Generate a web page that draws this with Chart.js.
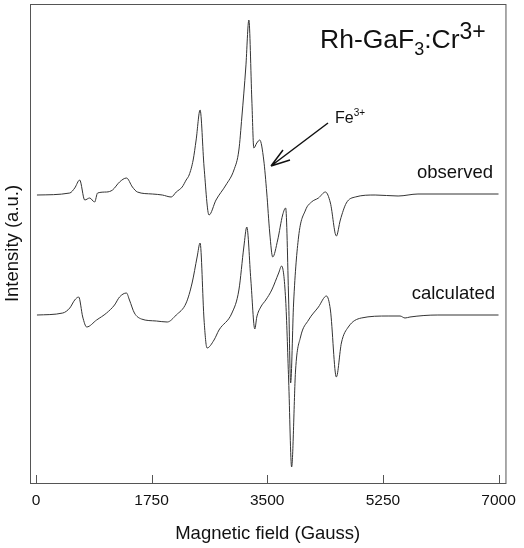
<!DOCTYPE html>
<html>
<head>
<meta charset="utf-8">
<script src="https://cdn.jsdelivr.net/npm/chart.js@4/dist/chart.umd.min.js"></script>
<style>
  html, body { margin: 0; padding: 0; background: #fff; }
  #wrap { width: 524px; height: 548px; }
</style>
</head>
<body>
<div id="wrap"><canvas id="epr" width="524" height="548"></canvas></div>
<script>
// EPR spectra, field in Gauss, intensity in arbitrary units (traces are offset)
const fieldObs = [15, 512, 587, 662, 738, 813, 888, 933, 1069, 1159, 1265, 1370, 1460, 1535, 1761, 1912, 2047, 2123, 2213, 2273, 2318, 2379, 2424, 2484, 2544, 2619, 2725, 2875, 2996, 3071, 3116, 3176, 3222, 3267, 3297, 3342, 3387, 3447, 3493, 3538, 3583, 3658, 3733, 3779, 3824, 3854, 3899, 3974, 4080, 4170, 4275, 4381, 4456, 4546, 4606, 4697, 4832, 5133, 5480, 5781, 7000];
const intObs   = [288, 290, 295, 303, 283, 285, 281, 290, 291, 293, 301, 305, 296, 291, 289, 288, 286, 291, 296, 303, 308, 323, 343, 373, 316, 268, 283, 298, 313, 333, 366, 416, 463, 383, 335, 340, 343, 323, 290, 250, 226, 243, 268, 275, 183, 100, 180, 246, 273, 281, 285, 291, 280, 247, 263, 280, 286, 288, 287, 289, 289];

const fieldCalc = [15, 406, 512, 587, 647, 708, 768, 918, 1069, 1189, 1265, 1370, 1415, 1490, 1596, 1822, 1987, 2123, 2273, 2363, 2439, 2484, 2544, 2589, 2695, 2770, 2966, 3071, 3146, 3191, 3252, 3312, 3342, 3402, 3478, 3568, 3673, 3718, 3779, 3824, 3869, 3929, 4004, 4125, 4275, 4396, 4456, 4546, 4622, 4727, 4923, 5329, 5510, 5585, 5660, 6082, 7000];
const intCalc   = [168, 170, 175, 183, 186, 166, 156, 163, 170, 178, 186, 190, 183, 170, 164, 162, 161, 168, 180, 200, 226, 240, 163, 135, 143, 153, 170, 193, 236, 256, 203, 154, 166, 176, 183, 193, 210, 217, 183, 103, 16, 113, 146, 163, 176, 187, 173, 106, 140, 156, 165, 167, 167, 165, 166, 168, 168];

const xTicks = [0, 1750, 3500, 5250, 7000];
const traceLabels = ["observed", "calculated"];

const FONT = '"Liberation Sans", Arial, sans-serif';
const toPoints = (xs, ys) => xs.map((x, i) => ({ x: x, y: ys[i] }));

// frame, inward ticks and text annotations
const decorPlugin = {
    id: 'decor',
    afterDraw(chart) {
        const ctx = chart.ctx;
        const a = chart.chartArea;
        const xs = chart.scales.x;
        ctx.save();
        ctx.strokeStyle = '#555';
        ctx.lineWidth = 1;
        ctx.strokeRect(a.left + 0.5, a.top + 0.5, a.right - a.left, a.bottom - a.top);

        // tick marks pointing into the plot
        xTicks.forEach(t => {
            const px = Math.round(xs.getPixelForValue(t)) + 0.5;
            ctx.beginPath();
            ctx.moveTo(px, a.bottom);
            ctx.lineTo(px, a.bottom - 8);
            ctx.stroke();
        });

        ctx.fillStyle = '#111';
        ctx.textBaseline = 'alphabetic';

        // sample label
        let x = 320, y = 48;
        ctx.font = '26.5px ' + FONT;
        ctx.fillText('Rh-GaF', x, y);
        x += ctx.measureText('Rh-GaF').width;
        ctx.font = '18px ' + FONT;
        ctx.fillText('3', x, y + 7);
        x += ctx.measureText('3').width;
        ctx.font = '26.5px ' + FONT;
        ctx.fillText(':Cr', x, y);
        x += ctx.measureText(':Cr').width;
        ctx.font = '23px ' + FONT;
        ctx.fillText('3+', x, y - 9);

        // Fe3+ with arrow
        ctx.font = '16px ' + FONT;
        ctx.fillText('Fe', 335, 123);
        const w = ctx.measureText('Fe').width;
        ctx.font = '10px ' + FONT;
        ctx.fillText('3+', 335 + w, 116);

        ctx.strokeStyle = '#111';
        ctx.lineWidth = 1.5;
        ctx.beginPath();
        ctx.moveTo(328, 123);
        ctx.lineTo(271, 166);
        ctx.moveTo(271, 166);
        ctx.lineTo(283, 150);
        ctx.moveTo(271, 166);
        ctx.lineTo(290, 160);
        ctx.stroke();

        // trace labels
        ctx.font = '18.5px ' + FONT;
        ctx.textAlign = 'right';
        ctx.fillText(traceLabels[0], 493, 178);
        ctx.fillText(traceLabels[1], 495, 299);
        ctx.restore();
    }
};

new Chart(document.getElementById('epr').getContext('2d'), {
    type: 'line',
    data: {
        datasets: [
            { label: traceLabels[0], data: toPoints(fieldObs, intObs), borderColor: '#333', borderWidth: 1, pointRadius: 0, fill: false, cubicInterpolationMode: 'monotone' },
            { label: traceLabels[1], data: toPoints(fieldCalc, intCalc), borderColor: '#333', borderWidth: 1, pointRadius: 0, fill: false, cubicInterpolationMode: 'monotone' }
        ]
    },
    options: {
        responsive: false,
        animation: false,
        layout: { padding: { top: 4, right: 16, left: 0, bottom: 0 } },
        plugins: { legend: { display: false }, tooltip: { enabled: false } },
        scales: {
            x: {
                type: 'linear',
                min: -90,
                max: 7105,
                afterBuildTicks: scale => { scale.ticks = xTicks.map(v => ({ value: v })); },
                afterFit: scale => { scale.height = 65; },
                grid: { display: false, drawTicks: false },
                border: { display: false },
                ticks: { padding: 8, color: '#111', font: { family: FONT, size: 15.5 }, maxRotation: 0, callback: v => String(v) },
                title: { display: true, text: 'Magnetic field (Gauss)', color: '#111', font: { family: FONT, size: 18.5 }, padding: { top: 0, bottom: 3 } }
            },
            y: {
                min: 0,
                max: 479,
                afterFit: scale => { scale.width = 30; },
                grid: { display: false, drawTicks: false },
                border: { display: false },
                ticks: { display: false },
                title: { display: true, text: 'Intensity (a.u.)', color: '#111', font: { family: FONT, size: 18.5 }, padding: { top: 2, bottom: 0 } }
            }
        }
    },
    plugins: [decorPlugin]
});
</script>
</body>
</html>
